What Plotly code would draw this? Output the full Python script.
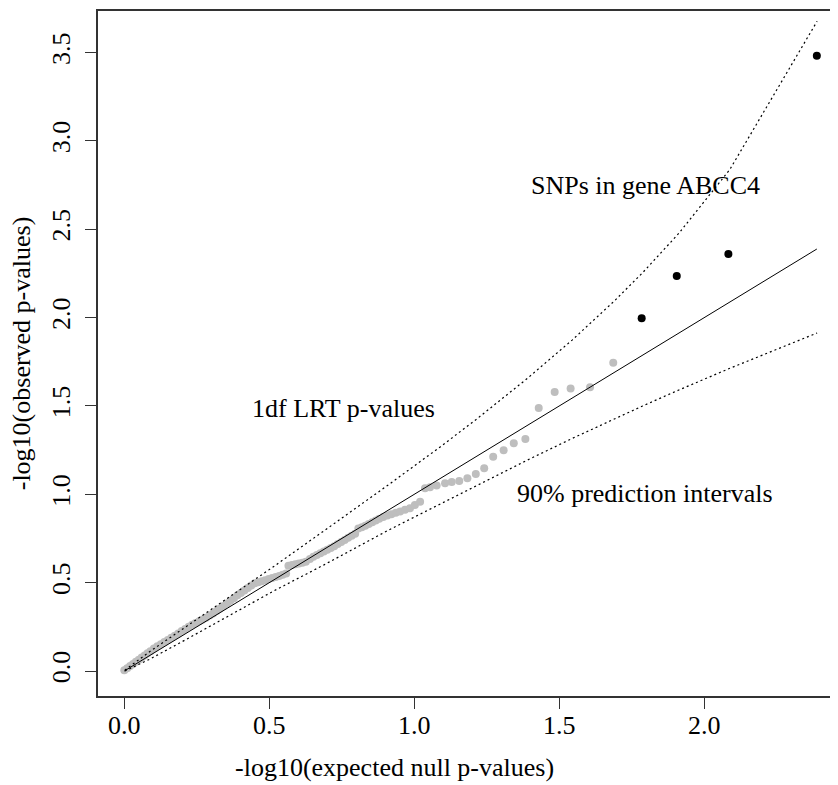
import plotly.graph_objects as go

# ---------------- data ----------------
gray_x = [0.000, 0.010, 0.020, 0.030, 0.040, 0.050, 0.060, 0.070, 0.080, 0.090,
          0.102, 0.114, 0.126, 0.138, 0.150, 0.162, 0.174, 0.186, 0.198, 0.210,
          0.222, 0.234, 0.246, 0.258, 0.270, 0.282, 0.294, 0.306, 0.318, 0.330,
          0.342, 0.354, 0.366, 0.378, 0.390, 0.402, 0.414, 0.426, 0.438, 0.450,
          0.462, 0.474, 0.486, 0.498, 0.510, 0.522, 0.534, 0.546, 0.558, 0.566,
          0.578, 0.590, 0.602, 0.614, 0.626, 0.640, 0.652, 0.664, 0.676, 0.688,
          0.700, 0.712, 0.724, 0.736, 0.748, 0.760, 0.772, 0.784, 0.796, 0.807,
          0.819, 0.831, 0.843, 0.855, 0.867, 0.879, 0.893, 0.907, 0.921, 0.936,
          0.951, 0.968, 0.985, 1.002, 1.020,
          1.037, 1.054, 1.077, 1.106, 1.129, 1.155, 1.183, 1.212, 1.241, 1.272,
          1.308, 1.343, 1.383, 1.429, 1.484, 1.539, 1.606, 1.686]
gray_y = [0.004, 0.016, 0.028, 0.040, 0.052, 0.064, 0.076, 0.088, 0.100, 0.112,
          0.128, 0.140, 0.152, 0.164, 0.176, 0.188, 0.200, 0.212, 0.226, 0.238,
          0.250, 0.262, 0.272, 0.282, 0.292, 0.302, 0.314, 0.326, 0.340, 0.354,
          0.368, 0.382, 0.398, 0.412, 0.428, 0.442, 0.456, 0.470, 0.484, 0.496,
          0.502, 0.508, 0.514, 0.520, 0.526, 0.532, 0.538, 0.545, 0.552, 0.596,
          0.600, 0.604, 0.608, 0.612, 0.618, 0.634, 0.647, 0.656, 0.666, 0.676,
          0.686, 0.696, 0.706, 0.718, 0.730, 0.742, 0.754, 0.766, 0.776, 0.806,
          0.814, 0.822, 0.832, 0.842, 0.852, 0.862, 0.872, 0.880, 0.887, 0.895,
          0.902, 0.912, 0.921, 0.940, 0.958,
          1.034, 1.040, 1.050, 1.062, 1.070, 1.075, 1.091, 1.115, 1.147, 1.213,
          1.249, 1.289, 1.313, 1.488, 1.579, 1.598, 1.606, 1.745]

abcc4_x = [1.784, 1.905, 2.083, 2.388]
abcc4_y = [1.996, 2.235, 2.360, 3.482]

diag_x = [0.0, 2.388]
diag_y = [0.0, 2.388]

band_x = [0.0018, 0.0881, 0.2131, 0.3892, 0.5141, 0.6902, 0.912, 1.0881,
          1.2131, 1.3892, 1.5441, 1.6902, 1.7871, 1.912, 2.088, 2.389]
band_upper = [0.0053, 0.1103, 0.2510, 0.4478, 0.590, 0.795, 1.055, 1.2668,
              1.4232, 1.6548, 1.8726, 2.0947, 2.2536, 2.4766, 2.838, 3.677]
band_lower = [0.0001, 0.0671, 0.1783, 0.3375, 0.452, 0.602, 0.798, 0.9439,
              1.049, 1.1931, 1.3157, 1.4276, 1.4997, 1.590, 1.713, 1.913]

x_ticks = [0.0, 0.5, 1.0, 1.5, 2.0]
x_tick_labels = ["0.0", "0.5", "1.0", "1.5", "2.0"]
y_ticks = [0.0, 0.5, 1.0, 1.5, 2.0, 2.5, 3.0, 3.5]
y_tick_labels = ["0.0", "0.5", "1.0", "1.5", "2.0", "2.5", "3.0", "3.5"]

x_title = "-log10(expected null p-values)"
y_title = "-log10(observed p-values)"
label_snps = "SNPs in gene ABCC4"
label_lrt = "1df LRT p-values"
label_pi = "90% prediction intervals"

# ---------------- figure ----------------
FONT = "Liberation Serif, Times New Roman, serif"
fig = go.Figure()

fig.add_trace(go.Scatter(x=gray_x, y=gray_y, mode="markers",
                         marker=dict(color="#BEBEBE", size=8, line=dict(width=0)),
                         showlegend=False, hoverinfo="x+y"))
fig.add_trace(go.Scatter(x=abcc4_x, y=abcc4_y, mode="markers",
                         marker=dict(color="black", size=8, line=dict(width=0)),
                         showlegend=False))
fig.add_trace(go.Scatter(x=diag_x, y=diag_y, mode="lines",
                         line=dict(color="black", width=1), showlegend=False))
fig.add_trace(go.Scatter(x=band_x, y=band_upper, mode="lines",
                         line=dict(color="black", width=1.2, dash="2px,3px"),
                         showlegend=False))
fig.add_trace(go.Scatter(x=band_x, y=band_lower, mode="lines",
                         line=dict(color="black", width=1.2, dash="2px,3px"),
                         showlegend=False))

axis_common = dict(showgrid=False, zeroline=False, showline=True,
                   linecolor="#333333", linewidth=1.5,
                   ticks="outside", ticklen=11, tickwidth=1, tickcolor="#333333",
                   tickfont=dict(family=FONT, size=26, color="black"))

# the page body has an 8px margin, so the figure is 8px smaller than the window
fig.update_layout(
    width=830, height=777,
    margin=dict(l=90, r=0, t=3, b=89),
    plot_bgcolor="white", paper_bgcolor="white",
    xaxis=dict(range=[-0.0907, 2.461], tickvals=x_ticks, ticktext=x_tick_labels,
               mirror=True, ticklabelstandoff=-6, **axis_common),
    yaxis=dict(range=[-0.1415, 3.735], tickvals=y_ticks, ticktext=y_tick_labels,
               tickangle=-90, ticklabelstandoff=5, **axis_common),
    font=dict(family=FONT, size=26, color="black"),
)

annots = [
    dict(text=x_title, xref="paper", yref="paper", x=0.4, y=-0.105,
         xanchor="center", yanchor="middle", showarrow=False),
    dict(text=y_title, xref="paper", yref="paper", x=-0.103, y=0.5,
         xanchor="center", yanchor="middle", textangle=-90, showarrow=False),
    dict(text=label_snps, xref="x", yref="y", x=1.797, y=2.745,
         xanchor="center", yanchor="middle", showarrow=False),
    dict(text=label_lrt, xref="x", yref="y", x=0.756, y=1.488,
         xanchor="center", yanchor="middle", showarrow=False),
    dict(text=label_pi, xref="x", yref="y", x=1.797, y=1.007,
         xanchor="center", yanchor="middle", showarrow=False),
]
for a in annots:
    a["font"] = dict(family=FONT, size=26, color="black")
    fig.add_annotation(**a)

fig.write_html("out.html")
